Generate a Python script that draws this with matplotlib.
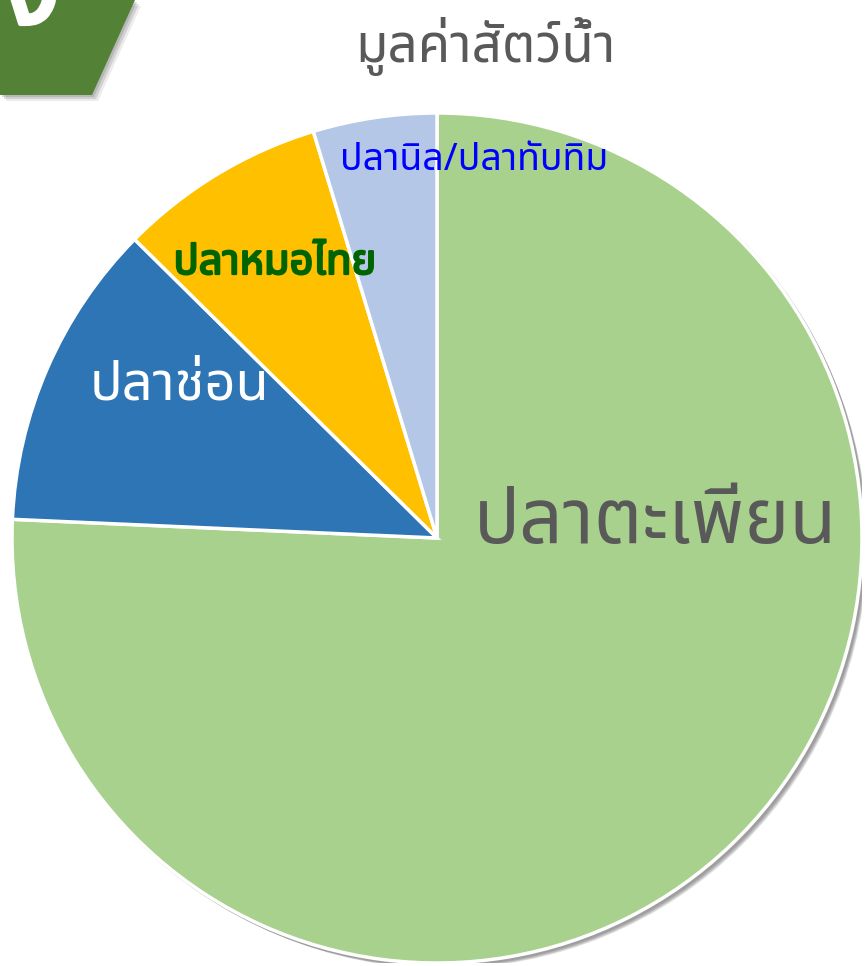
import matplotlib.pyplot as plt
import matplotlib.patheffects as pe
from matplotlib.patches import Polygon, Circle

plt.rcParams['font.family'] = ['Noto Sans Thai', 'DejaVu Sans']

title = "มูลค่าสัตว์น้ำ"
labels = ["ปลาตะเพียน", "ปลาช่อน", "ปลาหมอไทย", "ปลานิล/ปลาทับทิม"]
values = [75.7, 11.7, 7.9, 4.7]
colors = ["#A9D18E", "#2E75B6", "#FFC000", "#B4C7E7"]

W, H = 866, 966
fig = plt.figure(figsize=(W / 100, H / 100), dpi=100)


def fx(px):
    return px / W


def fy(py):
    return 1 - py / H


# green banner in the top-left corner (cut off by the image edge)
banner = [(0, 0), (135, 0), (92, 95), (0, 95)]
for d, a in [(6, 0.15), (4, 0.25), (2, 0.3)]:
    fig.add_artist(Polygon([(fx(x + d), fy(y + d)) for x, y in banner], closed=True,
                           transform=fig.transFigure, facecolor="#808080", alpha=a,
                           edgecolor="none"))
fig.add_artist(Polygon([(fx(x), fy(y)) for x, y in banner], closed=True,
                       transform=fig.transFigure, facecolor="#538135",
                       edgecolor="none"))
fig.text(fx(31), fy(24), "ง", color="white", fontsize=80, fontweight="bold",
         ha="center", va="baseline",
         path_effects=[pe.withStroke(linewidth=3, foreground="white")])

# pie
cx, cy, r = 437, 538, 425
ax = fig.add_axes([fx(cx - r), fy(cy + r), 2 * r / W, 2 * r / H])
ax.axis("off")

# soft shadow towards the bottom right
for k in range(6):
    off = 0.004 + k * 0.002
    ax.add_patch(Circle((off, -off), 1.0 + 0.004 - k * 0.001,
                        facecolor="#606060", alpha=0.14, edgecolor="none", zorder=0))

wedges, _ = ax.pie(values, colors=colors, startangle=90, counterclock=False,
                   radius=1.0, wedgeprops=dict(edgecolor="white", linewidth=2.5))
for w in wedges:
    w.set_zorder(2)
ax.set_xlim(-1, 1)
ax.set_ylim(-1, 1)

# slice labels
label_pos = [(656, 523), (180, 385), (275, 263), (474, 160)]
label_style = [
    dict(color="#595959", fontsize=55),
    dict(color="white", fontsize=39),
    dict(color="#006400", fontsize=30,
         path_effects=[pe.withStroke(linewidth=1.6, foreground="#006400")]),
    dict(color="#0000FF", fontsize=27),
]
for lab, (px, py), st in zip(labels, label_pos, label_style):
    fig.text(fx(px), fy(py), lab, ha="center", va="center", zorder=5, **st)

fig.text(fx(485), fy(46), title, ha="center", va="center", color="#595959", fontsize=38)

fig.savefig("out.png", dpi=100)
